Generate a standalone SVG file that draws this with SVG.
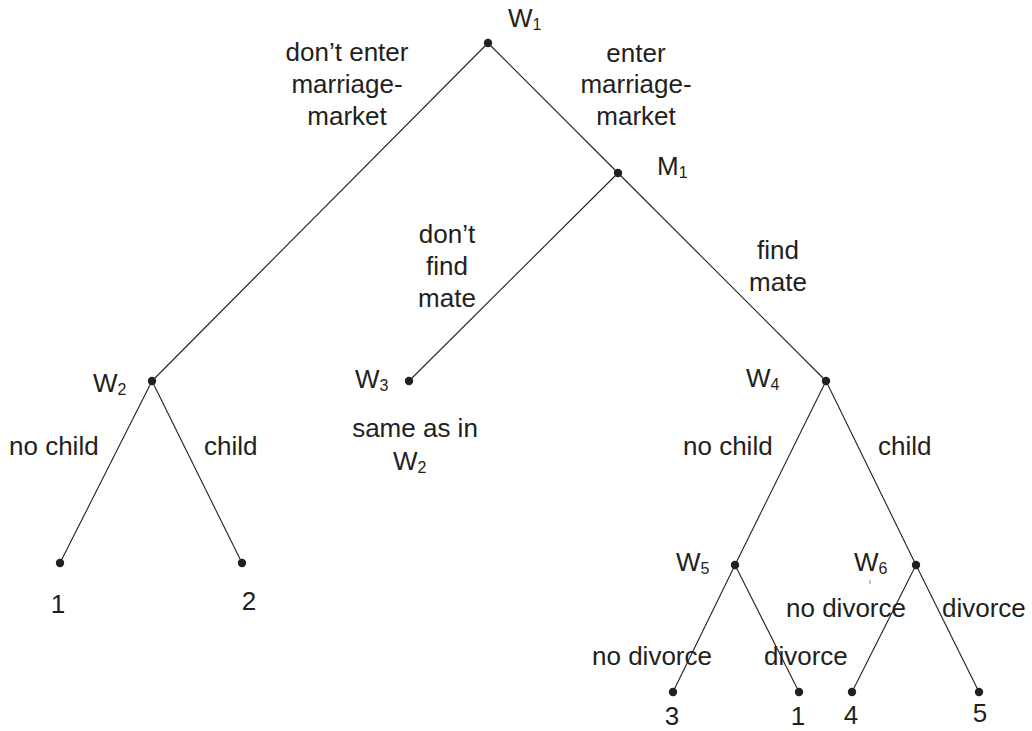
<svg xmlns="http://www.w3.org/2000/svg" width="1032" height="731" viewBox="0 0 1032 731">
<style>
text{font-family:"Liberation Sans",Arial,sans-serif;font-size:26px;fill:#231f20}
.m{text-anchor:middle}
.sub{font-size:16px}
.e{stroke:#231f20;stroke-width:1.1;fill:none}
.d{fill:#231f20}
</style>
<rect width="1032" height="731" fill="#fff"/>
<g id="connectors">
<line class="e" x1="488" y1="43" x2="152" y2="381"/>
<line class="e" x1="488" y1="43" x2="618" y2="173"/>
<line class="e" x1="618" y1="173" x2="409" y2="381"/>
<line class="e" x1="618" y1="173" x2="826" y2="381"/>
<line class="e" x1="152" y1="381" x2="60" y2="563"/>
<line class="e" x1="152" y1="381" x2="242" y2="563"/>
<line class="e" x1="826" y1="381" x2="735" y2="565"/>
<line class="e" x1="826" y1="381" x2="916" y2="565"/>
<line class="e" x1="735" y1="565" x2="673" y2="692"/>
<line class="e" x1="735" y1="565" x2="799" y2="692"/>
<line class="e" x1="916" y1="565" x2="852" y2="692"/>
<line class="e" x1="916" y1="565" x2="979" y2="692"/>
</g>
<g id="edge-labels">
<text class="m" x="347" y="61">don’t enter</text>
<text class="m" x="347" y="93">marriage-</text>
<text class="m" x="347" y="125">market</text>
<text class="m" x="636" y="62">enter</text>
<text class="m" x="636" y="93">marriage-</text>
<text class="m" x="636" y="125">market</text>
<text class="m" x="447" y="243">don’t</text>
<text class="m" x="447" y="275">find</text>
<text class="m" x="447" y="307">mate</text>
<text class="m" x="778" y="259">find</text>
<text class="m" x="778" y="291">mate</text>
<text x="9" y="455">no child</text>
<text x="204" y="455">child</text>
<text x="683" y="455">no child</text>
<text x="878" y="455">child</text>
<text x="592" y="665">no divorce</text>
<text x="764" y="665">divorce</text>
<text x="786" y="617">no divorce</text>
<text x="942" y="617">divorce</text>
</g>
<g id="W1"><circle class="d" cx="488" cy="43" r="4.2"/><text x="508" y="27">W<tspan class="sub" dy="3">1</tspan></text></g>
<g id="M1"><circle class="d" cx="618" cy="173" r="4.2"/><text x="657" y="175">M<tspan class="sub" dy="3">1</tspan></text></g>
<g id="W2"><circle class="d" cx="152" cy="381" r="4.2"/><text x="93" y="392">W<tspan class="sub" dy="3">2</tspan></text></g>
<g id="W3"><circle class="d" cx="409" cy="381" r="4.2"/><text x="355" y="388">W<tspan class="sub" dy="3">3</tspan></text>
<text class="m" x="415" y="437">same as in</text>
<text x="393" y="470">W<tspan class="sub" dy="3">2</tspan></text></g>
<g id="W4"><circle class="d" cx="826" cy="381" r="4.2"/><text x="746" y="387">W<tspan class="sub" dy="3">4</tspan></text></g>
<g id="W5"><circle class="d" cx="735" cy="565" r="4.2"/><text x="676" y="571">W<tspan class="sub" dy="3">5</tspan></text></g>
<g id="W6"><circle class="d" cx="916" cy="565" r="4.2"/><text x="854" y="571">W<tspan class="sub" dy="3">6</tspan></text>
<line x1="870" y1="580" x2="870" y2="584" stroke="#888" stroke-width="1"/></g>
<g id="leaf-1a"><circle class="d" cx="60" cy="563" r="4.2"/><text class="m" x="58" y="613">1</text></g>
<g id="leaf-2"><circle class="d" cx="242" cy="563" r="4.2"/><text class="m" x="249" y="610">2</text></g>
<g id="leaf-3"><circle class="d" cx="673" cy="692" r="4.2"/><text class="m" x="672" y="725">3</text></g>
<g id="leaf-1b"><circle class="d" cx="799" cy="692" r="4.2"/><text class="m" x="798" y="725">1</text></g>
<g id="leaf-4"><circle class="d" cx="852" cy="692" r="4.2"/><text class="m" x="851" y="724">4</text></g>
<g id="leaf-5"><circle class="d" cx="979" cy="692" r="4.2"/><text class="m" x="980" y="722">5</text></g>
</svg>
